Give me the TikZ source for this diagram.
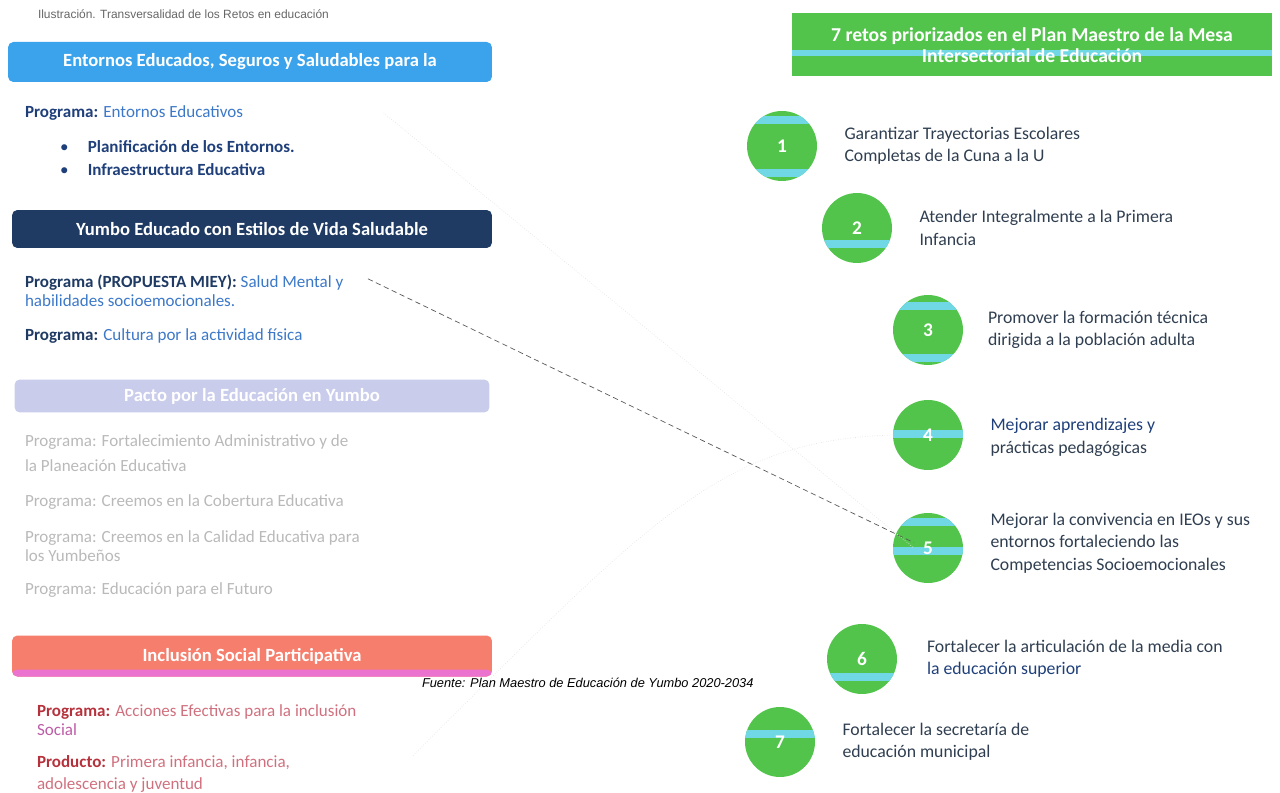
\documentclass[tikz,border=0pt]{standalone}
\usepackage{fontspec}
\setmainfont{Carlito}
\newfontfamily\arialfont{Liberation Sans}
\usetikzlibrary{positioning,calc}

\definecolor{boxblue}{HTML}{3BA3EC}
\definecolor{boxnavy}{HTML}{1F3A63}
\definecolor{boxlila}{HTML}{C9CDEB}
\definecolor{boxsalmon}{HTML}{F67E6C}
\definecolor{boxpink}{HTML}{EC72D0}
\definecolor{retogreen}{HTML}{52C44B}
\definecolor{retocyan}{HTML}{70D8E4}
\definecolor{progdark}{HTML}{1F3F7A}
\definecolor{progblue}{HTML}{3C78C8}
\definecolor{faded}{HTML}{B9B9B9}
\definecolor{incred}{HTML}{B5323C}
\definecolor{incpink}{HTML}{D0707E}
\definecolor{retotext}{HTML}{2F3E50}

\begin{document}
\begin{tikzpicture}
  [x=0.02cm,y=-0.02cm,
   every node/.style={inner sep=0pt,outer sep=0pt},
   titlebox/.style={rounded corners=3pt,text=white,
     font=\fontsize{10.6}{12}\selectfont\bfseries},
   prog/.style={anchor=west,align=left,font=\fontsize{9.7}{10.6}\selectfont},
   fade/.style={prog,text=faded},
   circ/.style={circle,fill=retogreen,minimum size=1.4cm,text=white,
     font=\fontsize{11}{11}\selectfont\bfseries},
   band/.style={path picture={\foreach \o in {#1}
     \fill[retocyan] ($(path picture bounding box.center)+(-40,\o-4)$)
       rectangle ($(path picture bounding box.center)+(40,\o+4)$);}},
   reto/.style={align=left,text=retotext,
     font=\fontsize{10.1}{12.8}\selectfont},
   link/.style={densely dashed,gray!70!black,thin},
   faint/.style={densely dotted,gray!20}]
  \useasboundingbox (0,0) rectangle (1280,793);

  % caption and source
  \node[anchor=west,text=gray!80!black,font=\arialfont\fontsize{6.8}{7}\selectfont]
    (ilus) at (38,14) {Ilustración. Transversalidad de los Retos en educación};
  \node[anchor=west,font=\arialfont\itshape\fontsize{7.3}{8}\selectfont]
    (fuente) at (422,683) {Fuente: Plan Maestro de Educación de Yumbo 2020-2034};

  % left column: the four lines of action
  \node[titlebox,fill=boxblue,minimum width=9.68cm,minimum height=0.8cm]
    (entornos) at (250,62) {Entornos Educados, Seguros y Saludables para la};
  \node[prog] (prog1) at (25,113)
    {\textcolor{progdark}{\bfseries Programa:} \textcolor{progblue}{Entornos Educativos}};
  \node[prog,text=progdark] (bul1) at (60,147) {\textbullet\hspace{11pt}\bfseries Planificación de los Entornos.};
  \node[prog,text=progdark] (bul2) at (60,170) {\textbullet\hspace{11pt}\bfseries Infraestructura Educativa};

  \node[titlebox,fill=boxnavy,minimum width=9.6cm,minimum height=0.76cm]
    (yumbo) at (252,229) {Yumbo Educado con Estilos de Vida Saludable};
  \node[prog] (salud) at (25,291)
    {\textcolor{boxnavy}{\bfseries Programa (PROPUESTA MIEY):} \textcolor{progblue}{Salud Mental y}\\
     \textcolor{progblue}{habilidades socioemocionales.}};
  \node[prog] (cultura) at (25,336)
    {\textcolor{boxnavy}{\bfseries Programa:} \textcolor{progblue}{Cultura por la actividad física}};

  \node[titlebox,fill=boxlila,minimum width=9.5cm,minimum height=0.66cm]
    (pacto) at (252,396) {Pacto por la Educación en Yumbo};
  \node[fade] (fort) at (25,453)
    {Programa: Fortalecimiento Administrativo y de\\[4pt] la Planeación Educativa};
  \node[fade] (cober) at (25,502) {Programa: Creemos en la Cobertura Educativa};
  \node[fade] (calid) at (25,546)
    {Programa: Creemos en la Calidad Educativa para\\ los Yumbeños};
  \node[fade] (futuro) at (25,590) {Programa: Educación para el Futuro};

  \node[titlebox,fill=boxsalmon,minimum width=9.6cm,minimum height=0.82cm,
    path picture={\fill[boxpink] ($(path picture bounding box.south west)+(0,-7)$)
      rectangle (path picture bounding box.south east);}]
    (inclusion) at (252,656) {Inclusión Social Participativa};
  \node[prog] (acciones) at (37,720)
    {\textcolor{incred}{\bfseries Programa:} \textcolor{incpink}{Acciones Efectivas para la inclusión}\\
     \textcolor{boxpink!80!black}{Social}};
  \node[prog,text=incpink] (producto) at (37,774)
    {\textcolor{incred}{\bfseries Producto:} Primera infancia, infancia,\\[2pt] adolescencia y juventud};

  % right column: the seven challenges
  \node[minimum width=9.6cm,minimum height=1.26cm,fill=retogreen,align=center,
    text=white,font=\fontsize{11.2}{12}\selectfont\bfseries,
    path picture={\fill[retocyan] ($(path picture bounding box.center)+(-240,5)$)
      rectangle ($(path picture bounding box.center)+(240,11)$);}]
    (retos) at (1032,45) {7 retos priorizados en el Plan Maestro de la Mesa\\
      Intersectorial de Educación};

  \node[circ,band={-26,27}] (c1) at (782,146) {1};
  \node[circ,band={16}]     (c2) at (857,228) {2};
  \node[circ,band={-24,28}] (c3) at (928,330) {3};
  \node[circ,band={-1}]     (c4) at (928,435) {4};
  \node[circ,band={-26,3}]  (c5) at (928,548) {5};
  \node[circ,band={18}]     (c6) at (862,659) {6};
  \node[circ,band={-8}]     (c7) at (780,742) {7};

  \node[reto,anchor=west,right=0.55cm of c1] (t1)
    {Garantizar Trayectorias Escolares\\Completas de la Cuna a la U};
  \node[reto,anchor=west,right=0.55cm of c2] (t2)
    {Atender Integralmente a la Primera\\Infancia};
  \node[reto,anchor=west,right=0.5cm of c3] (t3)
    {Promover la formación técnica\\dirigida a la población adulta};
  \node[reto,anchor=west,right=0.55cm of c4,yshift=-0.05cm] (t4)
    {\textcolor{progdark}{Mejorar aprendizajes y}\\prácticas pedagógicas};
  \node[reto,anchor=west,right=0.55cm of c5,yshift=0.1cm] (t5)
    {Mejorar la convivencia en IEOs y sus\\entornos fortaleciendo las\\Competencias Socioemocionales};
  \node[reto,anchor=west,right=0.6cm of c6] (t6)
    {Fortalecer la articulación de la media con\\\textcolor{progdark}{la educación superior}};
  \node[reto,anchor=west,right=0.55cm of c7] (t7)
    {Fortalecer la secretaría de\\educación municipal};

  % links from the programs to the challenges
  \draw[link] ([xshift=14pt,yshift=-2pt]salud.north east) -- ([xshift=-8pt,yshift=3pt]c5.center);
  \draw[faint] ([xshift=80pt]prog1.east) -- ([xshift=-8pt]c5.center);
  \draw[faint] ([xshift=70pt]producto.north east)
    .. controls (650,520) and (720,440) .. (c4.west);
\end{tikzpicture}
\end{document}
